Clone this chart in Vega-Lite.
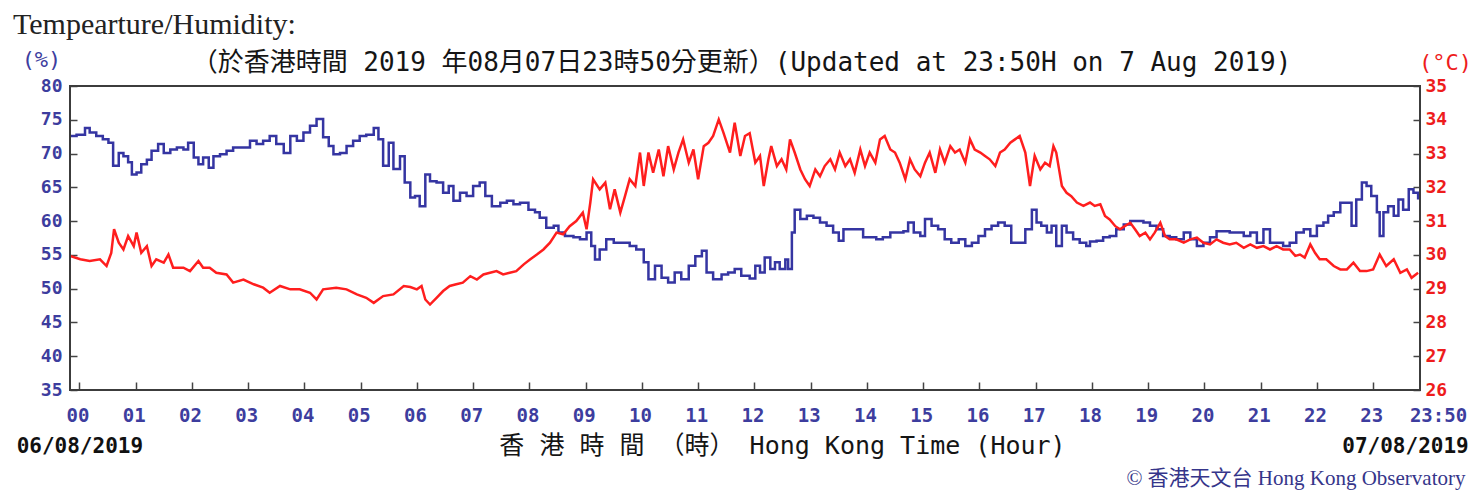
{
  "$schema": "https://vega.github.io/schema/vega-lite/v6.json",
  "width": 1350,
  "height": 304,
  "autosize": "none",
  "padding": {"left": 70, "top": 86, "right": 60, "bottom": 106},
  "background": "white",
  "config": {"view": {"stroke": null}},
  "title": {"text": "Tempearture/Humidity:", "anchor": "start", "frame": "group", "dx": -57, "offset": 8, "font": "Liberation Serif", "fontSize": 30, "fontWeight": "normal", "color": "#222222"},
  "datasets": {
    "hum": [
      {"m": -10, "h": 72.6}, {"m": -3, "h": 72.8}, {"m": 6, "h": 73.8}, {"m": 11, "h": 73.1}, {"m": 18, "h": 72.6}, {"m": 25, "h": 72.1}, {"m": 31, "h": 71.6}, {"m": 36, "h": 68.2}, {"m": 42, "h": 70.1}, {"m": 47, "h": 69.6}, {"m": 52, "h": 68.7}, {"m": 56, "h": 66.9}, {"m": 61, "h": 67.2}, {"m": 66, "h": 68.4}, {"m": 72, "h": 69.1}, {"m": 77, "h": 70.4}, {"m": 84, "h": 71.4}, {"m": 90, "h": 70.1}, {"m": 97, "h": 70.6}, {"m": 104, "h": 70.9}, {"m": 111, "h": 70.6}, {"m": 116, "h": 71.6}, {"m": 122, "h": 69.4}, {"m": 127, "h": 68.4}, {"m": 132, "h": 69.4}, {"m": 138, "h": 67.9}, {"m": 143, "h": 69.6}, {"m": 150, "h": 69.9}, {"m": 157, "h": 70.4}, {"m": 164, "h": 70.9}, {"m": 175, "h": 70.9}, {"m": 182, "h": 71.9}, {"m": 189, "h": 71.4}, {"m": 196, "h": 71.9}, {"m": 203, "h": 72.6}, {"m": 210, "h": 71.4}, {"m": 218, "h": 70.1}, {"m": 225, "h": 72.6}, {"m": 232, "h": 71.9}, {"m": 239, "h": 73.1}, {"m": 246, "h": 74.1}, {"m": 253, "h": 75.1}, {"m": 260, "h": 72.4}, {"m": 266, "h": 71.1}, {"m": 271, "h": 69.9}, {"m": 278, "h": 70.1}, {"m": 285, "h": 71.1}, {"m": 292, "h": 71.9}, {"m": 299, "h": 72.6}, {"m": 306, "h": 72.8}, {"m": 314, "h": 73.8}, {"m": 319, "h": 72.1}, {"m": 324, "h": 68.2}, {"m": 330, "h": 71.6}, {"m": 335, "h": 67.7}, {"m": 342, "h": 69.6}, {"m": 347, "h": 65.7}, {"m": 353, "h": 63.5}, {"m": 358, "h": 63.7}, {"m": 363, "h": 62.2}, {"m": 369, "h": 66.9}, {"m": 374, "h": 65.9}, {"m": 381, "h": 65.7}, {"m": 388, "h": 64.2}, {"m": 394, "h": 65.2}, {"m": 399, "h": 63.0}, {"m": 406, "h": 64.2}, {"m": 413, "h": 63.7}, {"m": 420, "h": 65.2}, {"m": 427, "h": 65.7}, {"m": 433, "h": 63.7}, {"m": 440, "h": 62.2}, {"m": 449, "h": 62.7}, {"m": 456, "h": 63.0}, {"m": 463, "h": 62.5}, {"m": 470, "h": 62.7}, {"m": 479, "h": 61.7}, {"m": 486, "h": 61.3}, {"m": 491, "h": 60.5}, {"m": 498, "h": 59.0}, {"m": 506, "h": 59.3}, {"m": 511, "h": 58.3}, {"m": 518, "h": 57.8}, {"m": 527, "h": 57.6}, {"m": 534, "h": 57.3}, {"m": 541, "h": 58.3}, {"m": 546, "h": 56.3}, {"m": 550, "h": 54.3}, {"m": 555, "h": 55.8}, {"m": 562, "h": 57.3}, {"m": 570, "h": 56.8}, {"m": 580, "h": 56.8}, {"m": 587, "h": 56.3}, {"m": 594, "h": 55.8}, {"m": 602, "h": 53.9}, {"m": 607, "h": 51.4}, {"m": 614, "h": 53.4}, {"m": 621, "h": 51.6}, {"m": 628, "h": 50.9}, {"m": 635, "h": 52.4}, {"m": 642, "h": 51.4}, {"m": 650, "h": 53.4}, {"m": 657, "h": 54.8}, {"m": 664, "h": 55.6}, {"m": 669, "h": 52.4}, {"m": 676, "h": 51.4}, {"m": 685, "h": 52.1}, {"m": 692, "h": 52.4}, {"m": 699, "h": 52.9}, {"m": 706, "h": 51.9}, {"m": 715, "h": 51.5}, {"m": 721, "h": 53.4}, {"m": 726, "h": 52.4}, {"m": 731, "h": 54.6}, {"m": 737, "h": 52.9}, {"m": 742, "h": 53.9}, {"m": 747, "h": 52.9}, {"m": 753, "h": 54.3}, {"m": 756, "h": 52.9}, {"m": 760, "h": 58.3}, {"m": 763, "h": 61.7}, {"m": 769, "h": 60.3}, {"m": 776, "h": 60.8}, {"m": 783, "h": 60.5}, {"m": 790, "h": 59.8}, {"m": 797, "h": 59.3}, {"m": 804, "h": 58.3}, {"m": 810, "h": 57.1}, {"m": 815, "h": 58.8}, {"m": 822, "h": 58.8}, {"m": 829, "h": 58.8}, {"m": 836, "h": 57.6}, {"m": 843, "h": 57.6}, {"m": 850, "h": 57.3}, {"m": 857, "h": 57.6}, {"m": 865, "h": 58.3}, {"m": 872, "h": 58.3}, {"m": 879, "h": 58.5}, {"m": 884, "h": 59.8}, {"m": 890, "h": 58.3}, {"m": 897, "h": 57.8}, {"m": 902, "h": 60.3}, {"m": 909, "h": 59.3}, {"m": 916, "h": 58.8}, {"m": 923, "h": 57.3}, {"m": 930, "h": 56.8}, {"m": 938, "h": 57.3}, {"m": 945, "h": 56.3}, {"m": 952, "h": 56.8}, {"m": 959, "h": 57.8}, {"m": 966, "h": 58.8}, {"m": 973, "h": 59.3}, {"m": 980, "h": 59.8}, {"m": 987, "h": 59.3}, {"m": 994, "h": 56.8}, {"m": 1002, "h": 56.8}, {"m": 1009, "h": 58.8}, {"m": 1016, "h": 61.7}, {"m": 1021, "h": 59.8}, {"m": 1026, "h": 59.3}, {"m": 1032, "h": 58.3}, {"m": 1037, "h": 59.3}, {"m": 1042, "h": 56.3}, {"m": 1048, "h": 59.3}, {"m": 1053, "h": 58.3}, {"m": 1060, "h": 57.3}, {"m": 1067, "h": 56.8}, {"m": 1074, "h": 56.3}, {"m": 1078, "h": 57.0}, {"m": 1085, "h": 57.1}, {"m": 1092, "h": 57.6}, {"m": 1099, "h": 57.8}, {"m": 1106, "h": 58.8}, {"m": 1114, "h": 59.5}, {"m": 1121, "h": 60.0}, {"m": 1128, "h": 60.0}, {"m": 1135, "h": 59.8}, {"m": 1142, "h": 59.3}, {"m": 1149, "h": 58.8}, {"m": 1156, "h": 57.8}, {"m": 1163, "h": 57.6}, {"m": 1170, "h": 57.3}, {"m": 1178, "h": 58.3}, {"m": 1185, "h": 57.3}, {"m": 1192, "h": 56.3}, {"m": 1199, "h": 56.8}, {"m": 1206, "h": 57.6}, {"m": 1213, "h": 58.5}, {"m": 1220, "h": 58.5}, {"m": 1227, "h": 58.3}, {"m": 1234, "h": 58.3}, {"m": 1242, "h": 57.8}, {"m": 1249, "h": 58.3}, {"m": 1256, "h": 56.8}, {"m": 1263, "h": 58.8}, {"m": 1270, "h": 56.8}, {"m": 1277, "h": 56.8}, {"m": 1284, "h": 56.3}, {"m": 1291, "h": 56.8}, {"m": 1298, "h": 58.3}, {"m": 1306, "h": 58.8}, {"m": 1313, "h": 57.8}, {"m": 1320, "h": 59.3}, {"m": 1327, "h": 59.8}, {"m": 1332, "h": 60.8}, {"m": 1338, "h": 61.3}, {"m": 1345, "h": 62.7}, {"m": 1352, "h": 62.7}, {"m": 1357, "h": 59.3}, {"m": 1362, "h": 63.2}, {"m": 1368, "h": 65.7}, {"m": 1373, "h": 65.2}, {"m": 1378, "h": 63.7}, {"m": 1384, "h": 61.3}, {"m": 1387, "h": 57.8}, {"m": 1391, "h": 61.3}, {"m": 1396, "h": 62.2}, {"m": 1402, "h": 60.8}, {"m": 1407, "h": 63.2}, {"m": 1412, "h": 61.7}, {"m": 1418, "h": 64.7}, {"m": 1423, "h": 64.2}, {"m": 1428, "h": 63.2}
    ],
    "temp": [
      {"m": -10, "t": 29.97}, {"m": 1, "t": 29.87}, {"m": 11, "t": 29.82}, {"m": 22, "t": 29.87}, {"m": 29, "t": 29.67}, {"m": 34, "t": 30.06}, {"m": 37, "t": 30.76}, {"m": 42, "t": 30.36}, {"m": 47, "t": 30.16}, {"m": 52, "t": 30.56}, {"m": 58, "t": 30.26}, {"m": 61, "t": 30.66}, {"m": 66, "t": 30.06}, {"m": 72, "t": 30.26}, {"m": 77, "t": 29.67}, {"m": 82, "t": 29.87}, {"m": 90, "t": 29.77}, {"m": 95, "t": 30.01}, {"m": 100, "t": 29.62}, {"m": 111, "t": 29.62}, {"m": 118, "t": 29.52}, {"m": 127, "t": 29.82}, {"m": 132, "t": 29.62}, {"m": 139, "t": 29.62}, {"m": 146, "t": 29.47}, {"m": 157, "t": 29.42}, {"m": 164, "t": 29.18}, {"m": 175, "t": 29.27}, {"m": 186, "t": 29.13}, {"m": 196, "t": 29.03}, {"m": 203, "t": 28.88}, {"m": 214, "t": 29.08}, {"m": 225, "t": 28.98}, {"m": 235, "t": 28.98}, {"m": 246, "t": 28.88}, {"m": 253, "t": 28.68}, {"m": 260, "t": 28.98}, {"m": 274, "t": 29.03}, {"m": 285, "t": 28.98}, {"m": 296, "t": 28.83}, {"m": 306, "t": 28.73}, {"m": 314, "t": 28.58}, {"m": 324, "t": 28.78}, {"m": 335, "t": 28.83}, {"m": 346, "t": 29.08}, {"m": 353, "t": 29.05}, {"m": 360, "t": 28.98}, {"m": 365, "t": 29.08}, {"m": 369, "t": 28.68}, {"m": 374, "t": 28.53}, {"m": 381, "t": 28.73}, {"m": 388, "t": 28.93}, {"m": 395, "t": 29.08}, {"m": 402, "t": 29.13}, {"m": 409, "t": 29.18}, {"m": 417, "t": 29.37}, {"m": 424, "t": 29.27}, {"m": 431, "t": 29.42}, {"m": 438, "t": 29.47}, {"m": 445, "t": 29.52}, {"m": 452, "t": 29.42}, {"m": 459, "t": 29.47}, {"m": 466, "t": 29.52}, {"m": 474, "t": 29.72}, {"m": 481, "t": 29.87}, {"m": 488, "t": 30.01}, {"m": 495, "t": 30.16}, {"m": 502, "t": 30.36}, {"m": 509, "t": 30.66}, {"m": 516, "t": 30.61}, {"m": 523, "t": 30.85}, {"m": 530, "t": 31.0}, {"m": 537, "t": 31.25}, {"m": 541, "t": 30.76}, {"m": 545, "t": 31.55}, {"m": 548, "t": 32.24}, {"m": 555, "t": 31.94}, {"m": 561, "t": 32.14}, {"m": 566, "t": 31.35}, {"m": 571, "t": 31.94}, {"m": 577, "t": 31.25}, {"m": 582, "t": 31.74}, {"m": 587, "t": 32.24}, {"m": 593, "t": 32.04}, {"m": 598, "t": 33.03}, {"m": 602, "t": 32.04}, {"m": 607, "t": 33.03}, {"m": 612, "t": 32.43}, {"m": 618, "t": 33.12}, {"m": 623, "t": 32.33}, {"m": 628, "t": 33.22}, {"m": 634, "t": 32.53}, {"m": 639, "t": 33.03}, {"m": 644, "t": 33.42}, {"m": 650, "t": 32.73}, {"m": 655, "t": 33.12}, {"m": 660, "t": 32.24}, {"m": 666, "t": 33.22}, {"m": 671, "t": 33.32}, {"m": 676, "t": 33.52}, {"m": 682, "t": 34.01}, {"m": 687, "t": 33.62}, {"m": 694, "t": 33.03}, {"m": 699, "t": 33.91}, {"m": 705, "t": 32.93}, {"m": 710, "t": 33.52}, {"m": 715, "t": 33.6}, {"m": 721, "t": 32.73}, {"m": 726, "t": 32.93}, {"m": 730, "t": 32.04}, {"m": 735, "t": 32.83}, {"m": 738, "t": 33.22}, {"m": 744, "t": 32.63}, {"m": 749, "t": 32.83}, {"m": 754, "t": 32.53}, {"m": 758, "t": 33.42}, {"m": 763, "t": 33.03}, {"m": 769, "t": 32.53}, {"m": 774, "t": 32.24}, {"m": 779, "t": 32.04}, {"m": 785, "t": 32.53}, {"m": 790, "t": 32.33}, {"m": 795, "t": 32.63}, {"m": 801, "t": 32.83}, {"m": 806, "t": 32.53}, {"m": 811, "t": 33.03}, {"m": 817, "t": 32.63}, {"m": 822, "t": 32.83}, {"m": 827, "t": 32.43}, {"m": 833, "t": 33.12}, {"m": 838, "t": 32.63}, {"m": 843, "t": 33.03}, {"m": 849, "t": 32.73}, {"m": 854, "t": 33.42}, {"m": 859, "t": 33.52}, {"m": 865, "t": 33.12}, {"m": 870, "t": 33.03}, {"m": 875, "t": 32.73}, {"m": 881, "t": 32.24}, {"m": 886, "t": 32.83}, {"m": 891, "t": 32.53}, {"m": 897, "t": 32.33}, {"m": 902, "t": 32.73}, {"m": 907, "t": 33.03}, {"m": 913, "t": 32.43}, {"m": 918, "t": 33.12}, {"m": 923, "t": 32.73}, {"m": 929, "t": 33.22}, {"m": 934, "t": 33.03}, {"m": 939, "t": 33.12}, {"m": 945, "t": 32.73}, {"m": 950, "t": 33.42}, {"m": 955, "t": 33.12}, {"m": 961, "t": 33.03}, {"m": 966, "t": 32.93}, {"m": 971, "t": 32.83}, {"m": 977, "t": 32.63}, {"m": 982, "t": 33.03}, {"m": 987, "t": 33.12}, {"m": 993, "t": 33.32}, {"m": 998, "t": 33.42}, {"m": 1003, "t": 33.52}, {"m": 1009, "t": 33.03}, {"m": 1014, "t": 32.04}, {"m": 1019, "t": 32.93}, {"m": 1025, "t": 32.53}, {"m": 1030, "t": 32.73}, {"m": 1035, "t": 32.63}, {"m": 1039, "t": 33.22}, {"m": 1042, "t": 33.03}, {"m": 1048, "t": 32.04}, {"m": 1053, "t": 31.84}, {"m": 1058, "t": 31.74}, {"m": 1064, "t": 31.55}, {"m": 1071, "t": 31.45}, {"m": 1078, "t": 31.55}, {"m": 1083, "t": 31.45}, {"m": 1089, "t": 31.5}, {"m": 1094, "t": 31.15}, {"m": 1099, "t": 31.05}, {"m": 1105, "t": 30.85}, {"m": 1110, "t": 30.76}, {"m": 1115, "t": 30.85}, {"m": 1121, "t": 30.95}, {"m": 1126, "t": 30.76}, {"m": 1131, "t": 30.56}, {"m": 1137, "t": 30.66}, {"m": 1142, "t": 30.46}, {"m": 1147, "t": 30.66}, {"m": 1153, "t": 30.95}, {"m": 1158, "t": 30.56}, {"m": 1163, "t": 30.46}, {"m": 1170, "t": 30.46}, {"m": 1178, "t": 30.36}, {"m": 1185, "t": 30.46}, {"m": 1192, "t": 30.51}, {"m": 1199, "t": 30.36}, {"m": 1206, "t": 30.31}, {"m": 1213, "t": 30.46}, {"m": 1220, "t": 30.36}, {"m": 1227, "t": 30.31}, {"m": 1234, "t": 30.36}, {"m": 1242, "t": 30.21}, {"m": 1249, "t": 30.31}, {"m": 1256, "t": 30.21}, {"m": 1263, "t": 30.26}, {"m": 1270, "t": 30.16}, {"m": 1277, "t": 30.26}, {"m": 1284, "t": 30.16}, {"m": 1291, "t": 30.16}, {"m": 1297, "t": 29.97}, {"m": 1302, "t": 30.01}, {"m": 1307, "t": 29.92}, {"m": 1313, "t": 30.31}, {"m": 1318, "t": 30.06}, {"m": 1323, "t": 29.87}, {"m": 1330, "t": 29.87}, {"m": 1338, "t": 29.67}, {"m": 1345, "t": 29.57}, {"m": 1352, "t": 29.57}, {"m": 1359, "t": 29.77}, {"m": 1366, "t": 29.52}, {"m": 1373, "t": 29.52}, {"m": 1380, "t": 29.57}, {"m": 1387, "t": 30.01}, {"m": 1394, "t": 29.67}, {"m": 1402, "t": 29.87}, {"m": 1409, "t": 29.47}, {"m": 1416, "t": 29.57}, {"m": 1421, "t": 29.32}, {"m": 1428, "t": 29.47}
    ]
  },
  "resolve": {"scale": {"x": "independent", "y": "independent"}},
  "layer": [
    {
      "data": {"name": "hum"},
      "mark": {"type": "line", "color": "#3535a2", "strokeWidth": 2.5, "interpolate": "step-after", "clip": true},
      "encoding": {
        "x": {"field": "m", "type": "quantitative",
          "scale": {"domain": [-10, 1430], "nice": false, "zero": false},
          "axis": {"orient": "bottom", "values": [0, 60, 120, 180, 240, 300, 360, 420, 480, 540, 600, 660, 720, 780, 840, 900, 960, 1020, 1080, 1140, 1200, 1260, 1320, 1380, 1430],
            "labelExpr": "datum.value == 1430 ? '23:50' : (datum.value < 600 ? '0' : '') + (datum.value / 60)",
            "domain": false, "grid": false, "tickSize": -8, "tickColor": "#444444", "tickWidth": 1.5,
            "tickOpacity": {"condition": {"test": "datum.value == 1430", "value": 0}, "value": 1},
            "labelFlush": false, "labelOverlap": false, "labelBound": false,
            "labelFont": "DejaVu Sans Mono", "labelFontWeight": "bold", "labelFontSize": 19, "labelColor": "#3d3d9e",
            "labelPadding": 33, "labelBaseline": "middle",
            "labelOffset": {"condition": {"test": "datum.value == 1430", "value": 18}, "value": -2},
            "title": "（於香港時間 2019 年08月07日23時50分更新）(Updated at 23:50H on 7 Aug 2019)",
            "titleX": 671, "titleY": -328, "titleAlign": "center", "titleBaseline": "middle", "titleAnchor": null,
            "titleFont": "DejaVu Sans Mono, Noto Sans CJK TC", "titleFontSize": 26, "titleFontWeight": "normal", "titleColor": "#151515"}
        },
        "y": {"field": "h", "type": "quantitative",
          "scale": {"domain": [35, 80], "nice": false, "zero": false},
          "axis": {"orient": "left", "values": [35, 40, 45, 50, 55, 60, 65, 70, 75, 80],
            "domain": false, "grid": false, "tickSize": -7, "tickColor": "#444444", "tickWidth": 1.5,
            "labelFont": "DejaVu Sans Mono", "labelFontWeight": "bold", "labelFontSize": 18, "labelColor": "#3d3d9e",
            "labelPadding": 15, "labelFlush": false, "labelOverlap": false, "labelBound": false,
            "title": "(%)", "titleAngle": 0, "titleX": -29, "titleY": -27, "titleAlign": "center", "titleBaseline": "middle", "titleAnchor": null,
            "titleFont": "DejaVu Sans Mono", "titleFontSize": 22, "titleFontWeight": "normal", "titleColor": "#3d3d9e"}
        }
      }
    },
    {
      "data": {"name": "temp"},
      "mark": {"type": "line", "color": "#ff1e1e", "strokeWidth": 2.5, "clip": true},
      "encoding": {
        "x": {"field": "m", "type": "quantitative",
          "scale": {"domain": [-10, 1430], "nice": false, "zero": false},
          "axis": {"orient": "bottom", "values": [], "domain": false, "grid": false, "ticks": false, "labels": false,
            "title": "香 港 時 間 （時） Hong Kong Time (Hour)",
            "titleX": 712, "titleY": 55, "titleAlign": "center", "titleBaseline": "middle", "titleAnchor": null,
            "titleFont": "DejaVu Sans Mono, Noto Sans CJK TC", "titleFontSize": 25, "titleFontWeight": "normal", "titleColor": "#151515"}
        },
        "y": {"field": "t", "type": "quantitative",
          "scale": {"domain": [26, 35], "nice": false, "zero": false},
          "axis": {"orient": "right", "values": [26, 27, 28, 29, 30, 31, 32, 33, 34, 35],
            "domain": false, "grid": false, "tickSize": -7, "tickColor": "#444444", "tickWidth": 1.5,
            "labelFont": "DejaVu Sans Mono", "labelFontWeight": "bold", "labelFontSize": 18, "labelColor": "#ee1c1c",
            "labelPadding": 12, "labelFlush": false, "labelOverlap": false, "labelBound": false,
            "title": "(°C)", "titleAngle": 0, "titleX": 25, "titleY": -24, "titleAlign": "center", "titleBaseline": "middle", "titleAnchor": null,
            "titleFont": "DejaVu Sans Mono", "titleFontSize": 22, "titleFontWeight": "normal", "titleColor": "#ee1c1c"}
        }
      }
    },
    {
      "data": {"values": [{}]},
      "mark": {"type": "rect", "fillOpacity": 0, "stroke": "#3c3c3c", "strokeWidth": 2},
      "encoding": {
        "x": {"datum": -10, "type": "quantitative",
          "scale": {"domain": [-10, 1430], "nice": false, "zero": false},
          "axis": {"orient": "bottom", "values": [0, 1430],
            "labelExpr": "datum.value == 0 ? '06/08/2019' : '07/08/2019'",
            "domain": false, "grid": false, "ticks": false,
            "labelFlush": false, "labelOverlap": false, "labelBound": false,
            "labelFont": "DejaVu Sans Mono", "labelFontWeight": "bold", "labelFontSize": 21, "labelColor": "#111111",
            "labelPadding": 56, "labelBaseline": "middle",
            "labelOffset": {"condition": {"test": "datum.value == 1430", "value": -15}, "value": 0},
            "title": "© 香港天文台 Hong Kong Observatory",
            "titleX": 1395, "titleY": 88, "titleAlign": "right", "titleBaseline": "middle", "titleAnchor": null,
            "titleFont": "Liberation Serif, Noto Sans CJK TC", "titleFontSize": 21, "titleFontWeight": "normal", "titleColor": "#35358a"}
        },
        "x2": {"datum": 1430},
        "y": {"datum": 35, "type": "quantitative", "scale": {"domain": [35, 80], "nice": false, "zero": false}, "axis": null},
        "y2": {"datum": 80}
      }
    }
  ]
}
